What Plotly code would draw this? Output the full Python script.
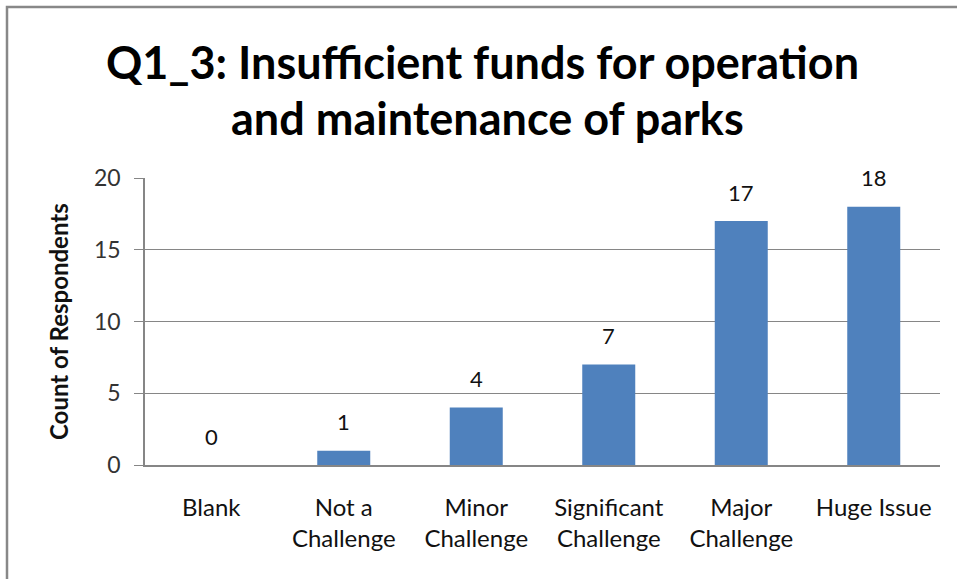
import plotly.graph_objects as go

categories = ["Blank", "Not a<br>Challenge", "Minor<br>Challenge", "Significant<br>Challenge", "Major<br>Challenge", "Huge Issue"]
counts = [0, 1, 4, 7, 17, 18]
y_ticks = [0, 5, 10, 15, 20]

title_lines = ["Q1_3: Insufficient funds for operation", "and maintenance of parks"]
y_title = "Count of Respondents"

OFF = 0  # body margin removed via post_script
W, H = 957, 579
# plot area in screen pixels: x 145..940, y 178..465
L = 145 - OFF
T = 178 - OFF
R = W - (940 - OFF)
B = H - (465 - OFF)
pw, ph = W - L - R, H - T - B

def px_x(x):
    return (x - OFF - L) / pw

def px_y(y):
    return (H - B - (y - OFF)) / ph

FONT = "Lato"
GRID = "#868686"

fig = go.Figure()
fig.add_trace(go.Bar(
    x=categories, y=counts,
    marker=dict(color="#4F81BD", line=dict(width=0)),
    width=0.4,
    hoverinfo="x+y",
))

for c, v in zip(categories, counts):
    fig.add_annotation(x=c, y=v, text=str(v), showarrow=False,
                       yshift=29, font=dict(family=FONT, size=22, color="#111111"))

fig.add_annotation(xref="paper", yref="paper", x=px_x(482), y=px_y(62),
                   text=title_lines[0], showarrow=False,
                   font=dict(family=FONT, size=45, color="#000000", weight="bold"),
                   xanchor="center", yanchor="middle")
fig.add_annotation(xref="paper", yref="paper", x=px_x(487), y=px_y(118),
                   text=title_lines[1], showarrow=False,
                   font=dict(family=FONT, size=45, color="#000000", weight="bold"),
                   xanchor="center", yanchor="middle")

fig.add_annotation(xref="paper", yref="paper", x=px_x(58), y=px_y(322),
                   text=y_title, showarrow=False, textangle=-90,
                   font=dict(family=FONT, size=24, color="#111111", weight="bold"),
                   xanchor="center", yanchor="middle")

fig.add_shape(type="rect", xref="paper", yref="paper",
              x0=px_x(7), x1=px_x(975), y0=px_y(600), y1=px_y(7),
              line=dict(color="#888888", width=2.5), fillcolor="rgba(0,0,0,0)", layer="below")

fig.update_layout(
    width=W, height=H,
    margin=dict(l=L, r=R, t=T, b=B, autoexpand=False),
    paper_bgcolor="white", plot_bgcolor="white",
    showlegend=False,
    bargap=0.6,
    font=dict(family=FONT, color="#222222"),
)
fig.update_xaxes(
    showline=True, linecolor=GRID, linewidth=1.5,
    showgrid=False, ticks="", tickfont=dict(family=FONT, size=24, color="#111111"),
    ticklabelstandoff=20, fixedrange=True,
)
fig.update_yaxes(
    range=[0, 20], tickvals=y_ticks, showline=True, linecolor=GRID, linewidth=1.5,
    showgrid=True, gridcolor=GRID, gridwidth=1.2,
    ticks="outside", ticklen=9, tickcolor=GRID, tickwidth=1.2,
    tickfont=dict(family=FONT, size=23, color="#333333"),
    ticklabelstandoff=9,
    zeroline=False, fixedrange=True,
)

fig.write_html("out.html", config={"displayModeBar": False},
               post_script="document.body.style.margin='0';")
